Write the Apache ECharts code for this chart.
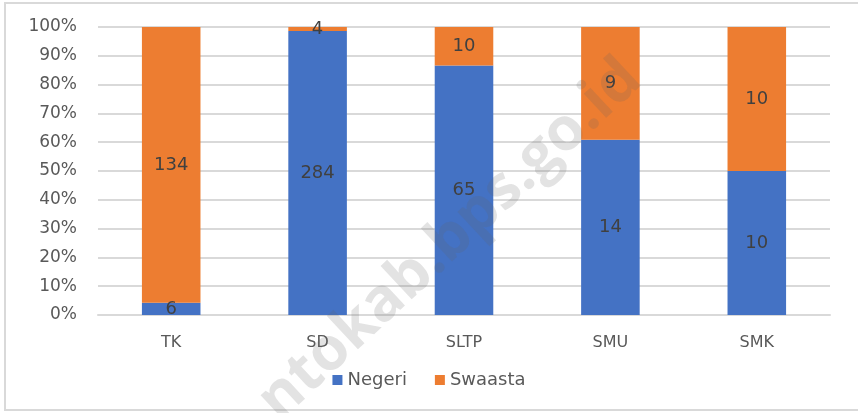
<!DOCTYPE html>
<html>
<head>
<meta charset="utf-8">
<script src="https://cdn.jsdelivr.net/npm/echarts@6/dist/echarts.min.js"></script>
<style>
  html, body { margin: 0; padding: 0; background: #fff; }
  #chart { width: 858px; height: 413px; }
</style>
</head>
<body>
<div id="chart"></div>
<script>
// jumlah sekolah per jenjang
const categories = ['TK', 'SD', 'SLTP', 'SMU', 'SMK']
const negeri = [6, 284, 65, 14, 10]
const swasta = [134, 4, 10, 9, 10]
const yTicks = [0, 10, 20, 30, 40, 50, 60, 70, 80, 90, 100]

const totals = categories.map((c, i) => negeri[i] + swasta[i])
const pct = (arr) => arr.map((v, i) => ({ value: v / totals[i] * 100, raw: v }))

const font = 'DejaVu Sans'
const labelStyle = {
  show: true,
  position: 'inside',
  color: '#404040',
  fontSize: 18,
  fontFamily: font,
  formatter: (p) => p.data.raw
}

const chart = echarts.init(document.getElementById('chart'))
chart.setOption({
  backgroundColor: '#fff',
  animation: false,
  textStyle: { fontFamily: font },
  graphic: [
    {
      type: 'rect',
      shape: { x: 5, y: 3, width: 870, height: 407 },
      style: { fill: 'none', stroke: '#d9d9d9', lineWidth: 2 },
      silent: true
    },
    {
      // watermark
      type: 'text',
      x: 450, y: 240,
      rotation: 43 * Math.PI / 180,
      z: 100,
      silent: true,
      style: {
        text: 'ntokab.bps.go.id',
        fontSize: 60,
        fontWeight: 'bold',
        fontFamily: 'Open Sans',
        fill: 'rgba(100,100,100,0.18)',
        align: 'center',
        verticalAlign: 'middle'
      }
    }
  ],
  grid: { left: 98, right: 28, top: 27, bottom: 98 },
  legend: {
    bottom: 19,
    left: 'center',
    icon: 'rect',
    itemWidth: 10,
    itemHeight: 10,
    itemGap: 28,
    textStyle: { color: '#595959', fontSize: 18 },
    data: ['Negeri', 'Swaasta']
  },
  xAxis: {
    type: 'category',
    data: categories,
    axisLine: { lineStyle: { color: '#d9d9d9', width: 2 } },
    axisTick: { show: false },
    axisLabel: { color: '#595959', fontSize: 16, margin: 20 }
  },
  yAxis: {
    type: 'value',
    min: yTicks[0],
    max: yTicks[yTicks.length - 1],
    interval: 10,
    axisLine: { show: false },
    axisTick: { show: false },
    axisLabel: { color: '#595959', fontSize: 17, margin: 21, formatter: '{value}%' },
    splitLine: { lineStyle: { color: '#d9d9d9', width: 2 } }
  },
  series: [
    {
      name: 'Negeri',
      type: 'bar',
      stack: 'total',
      barWidth: '40%',
      itemStyle: { color: '#4472c4' },
      label: labelStyle,
      data: pct(negeri)
    },
    {
      name: 'Swaasta',
      type: 'bar',
      stack: 'total',
      barWidth: '40%',
      itemStyle: { color: '#ed7d31' },
      label: labelStyle,
      data: pct(swasta)
    }
  ]
})
</script>
</body>
</html>
